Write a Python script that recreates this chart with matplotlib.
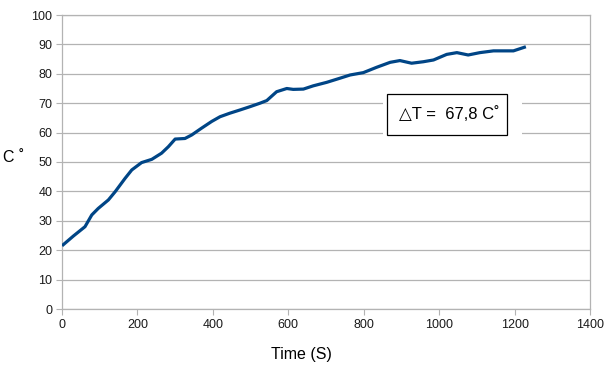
import matplotlib
matplotlib.use("Agg")
import matplotlib.pyplot as plt
from matplotlib.patches import Rectangle

# ---------- DATA ----------
time_s = [0, 30, 61, 79, 96, 123, 141, 167, 185, 211, 238, 264, 282, 300, 326,
          344, 370, 397, 419, 445, 472, 498, 525, 543, 569, 596, 613, 640, 666,
          702, 737, 764, 799, 834, 870, 896, 927, 958, 985, 1020, 1047, 1077,
          1108, 1144, 1197, 1230]
temp_c = [21.5, 24.8, 28.0, 32.0, 34.2, 37.1, 39.9, 44.4, 47.3, 49.8, 50.9,
          53.0, 55.2, 57.8, 58.0, 59.2, 61.5, 63.8, 65.4, 66.6, 67.7, 68.8,
          70.0, 70.9, 73.9, 75.0, 74.7, 74.8, 75.9, 77.1, 78.5, 79.6, 80.4,
          82.2, 83.9, 84.5, 83.6, 84.1, 84.7, 86.6, 87.2, 86.4, 87.2, 87.8,
          87.8, 89.2]
x_ticks = list(range(0, 1401, 200))
y_ticks = list(range(0, 101, 10))
delta_label = "\u25b3T =  67,8 C\u02da"

# ---------- STYLE ----------
plt.rcParams["font.family"] = ["Liberation Sans", "DejaVu Sans"]
GRID = "#b3b3b3"
LINE = "#004586"

fig = plt.figure(figsize=(6.12, 3.74), dpi=100)
ax = fig.add_axes([62 / 612, 65 / 374, 528 / 612, 294 / 374])

ax.plot(time_s, temp_c, color=LINE, linewidth=2.3, solid_capstyle="butt", zorder=4)

ax.set_xlim(0, 1400)
ax.set_ylim(0, 100)
ax.set_xticks(x_ticks)
ax.set_yticks(y_ticks)
ax.yaxis.grid(True, color=GRID, linewidth=0.9)
ax.set_axisbelow(True)
for side in ["left", "bottom", "right", "top"]:
    ax.spines[side].set_color(GRID)
    ax.spines[side].set_linewidth(0.9)
ax.tick_params(axis="both", direction="out", length=4, color=GRID,
               labelsize=9, labelcolor="#1a1a1a", pad=3)

fig.text(301 / 612, 1 - 355 / 374, "Time (S)", ha="center", va="center", fontsize=11.5)
fig.text(14 / 612, 1 - 157 / 374, "C \u02da", ha="center", va="center", fontsize=11.5)

# annotation box: white gap in grid + framed text
ax.add_patch(Rectangle((0.608, 0.585), 0.263, 0.155, transform=ax.transAxes,
                       facecolor="white", edgecolor="none", zorder=2))
ax.add_patch(Rectangle((0.6155, 0.5918), 0.2273, 0.1395, transform=ax.transAxes,
                       facecolor="white", edgecolor="black", linewidth=0.9, zorder=3))
ax.text(0.733, 0.662, delta_label, transform=ax.transAxes, ha="center",
        va="center", fontsize=12, zorder=5)

fig.savefig("out.png", dpi=100)
